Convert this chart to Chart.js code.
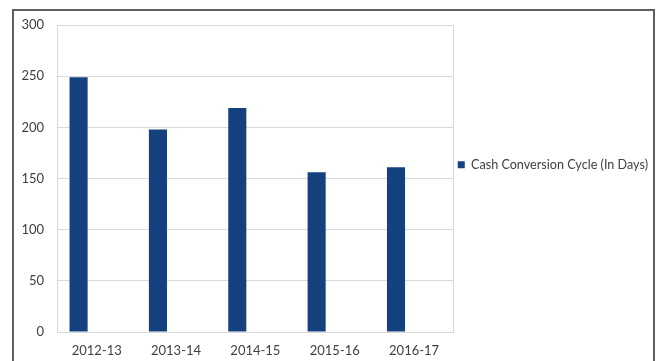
<!DOCTYPE html>
<html>
<head>
<meta charset="utf-8">
<script src="https://cdn.jsdelivr.net/npm/chart.js@4.4.0/dist/chart.umd.min.js"></script>
<style>
  html, body { margin: 0; padding: 0; background: #ffffff; }
  #frame { position: absolute; left: 12px; top: 9px; width: 643px; height: 400px;
           border: 2px solid #5f5f5f; border-bottom: none; box-sizing: border-box; }
  #c { position: absolute; left: 0; top: 0; }
</style>
</head>
<body>
<div id="frame"></div>
<canvas id="c" width="656" height="361"></canvas>
<script>
const categories = ['2012-13', '2013-14', '2014-15', '2015-16', '2016-17'];
const cashConversionCycle = [249, 198, 219, 156, 161];
const emptySeries = [null, null, null, null, null];
const seriesLabel = 'Cash Conversion Cycle (In Days)';
const yTicks = [0, 50, 100, 150, 200, 250, 300];

const textColor = '#404040';
const gridColor = '#d9d9d9';
const barColor = '#15427f';

new Chart(document.getElementById('c'), {
  type: 'bar',
  data: {
    labels: categories,
    datasets: [
      { label: seriesLabel, data: cashConversionCycle, backgroundColor: barColor, borderWidth: 0 },
      { label: 'hidden1', data: emptySeries, backgroundColor: barColor },
      { label: 'hidden2', data: emptySeries, backgroundColor: barColor }
    ]
  },
  options: {
    responsive: false,
    animation: false,
    datasets: { bar: { categoryPercentage: 0.684, barPercentage: 1.0 } },
    layout: { padding: { top: 25, right: -2, bottom: 0, left: 0 } },
    plugins: {
      tooltip: { enabled: false },
      legend: {
        position: 'right',
        align: 'start',
        maxWidth: 240,
        title: { display: true, text: '', padding: { top: 115, bottom: 0 } },
        labels: {
          filter: (item) => item.datasetIndex === 0,
          boxWidth: 7, boxHeight: 7, padding: 4,
          color: textColor,
          font: { family: 'Lato', size: 12.6 }
        }
      }
    },
    scales: {
      x: {
        grid: { display: false, drawTicks: false },
        border: { display: true, color: gridColor, width: 1 },
        ticks: { color: textColor, padding: 11, font: { family: 'Lato', size: 13 } },
        afterFit: (s) => { s.height = 29; }
      },
      y: {
        min: 0, max: 300,
        afterBuildTicks: (s) => { s.ticks = yTicks.map(v => ({ value: v })); },
        grid: { color: gridColor, drawTicks: false },
        border: { display: true, color: gridColor },
        ticks: { color: textColor, padding: 13, font: { family: 'Lato', size: 13 } },
        afterFit: (s) => { s.width = 57; }
      },
      y2: {
        position: 'right',
        min: 0, max: 300,
        grid: { display: false, drawTicks: false },
        border: { display: true, color: gridColor },
        ticks: { display: false },
        afterFit: (s) => { s.width = 0; }
      }
    }
  }
});
</script>
</body>
</html>
